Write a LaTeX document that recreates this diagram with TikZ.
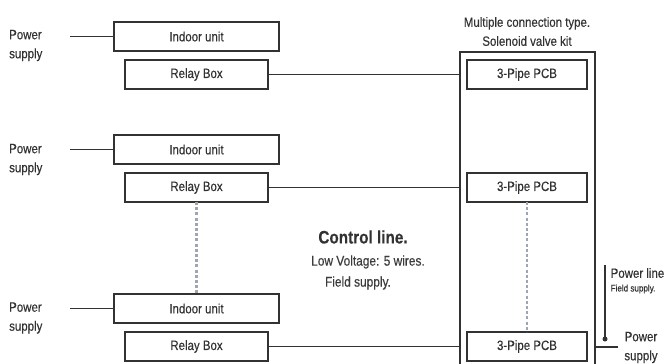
\documentclass[tikz,border=0pt]{standalone}
\usepackage{fontspec}
\setmainfont{Liberation Sans}[FakeStretch=0.85, FakeBold=0.35]
\usepackage{tikz}
\usetikzlibrary{positioning}

\definecolor{linegray}{RGB}{50,50,50}
\definecolor{textgray}{RGB}{60,60,60}
\definecolor{ctrlgray}{RGB}{158,166,178}

\tikzset{
    unitbox/.style={draw=linegray, line width=1.3pt, minimum height=29pt,
        inner sep=0pt, outer sep=0pt, text=linegray,
        font=\fontsize{13.5}{16}\selectfont},
    indoorbox/.style={unitbox, minimum width=165pt},
    relaybox/.style={unitbox, minimum width=143pt},
    pcbbox/.style={unitbox, minimum width=120pt},
    wire/.style={linegray, line width=1.2pt},
    ctrlwire/.style={ctrlgray, line width=2.6pt, dash pattern=on 3pt off 2.2pt},
    lbl/.style={text=linegray, inner sep=0pt, align=left,
        font=\fontsize{13.5}{19}\selectfont}
}

\begin{document}
\begin{tikzpicture}[x=1pt, y=-1pt]
                  \useasboundingbox (0,0) rectangle (665,364);
                  % solenoid valve kit
                  \node[draw=linegray, line width=1.3pt, minimum width=135pt, minimum height=330pt,
                      inner sep=0pt, outer sep=0pt, anchor=north] (kit) at (527.5,52) {};
                  \node[lbl, align=center] (kittitle) at (527,31.5) {Multiple connection type.\\Solenoid valve kit};
                  % first row
                  \node[lbl, anchor=west] (ps1) at (9,45.5) {Power\\supply};
                  \coordinate (ps1w) at (70,36.5);
                  \node[indoorbox] (indoor1) at (196.5,36.5) {Indoor unit};
                  \node[relaybox] (relay1) at (196.5,74.5) {Relay Box};
                  \node[pcbbox] (pcb1) at (527,74.5) {3-Pipe PCB};
                  \draw[wire] (ps1w) -- (indoor1.west);
                  \draw[wire] (relay1.east) -- (relay1.east -| kit.west);
                  % second row
                  \node[lbl, anchor=west] (ps2) at (9,159.5) {Power\\supply};
                  \coordinate (ps2w) at (70,149.5);
                  \node[indoorbox] (indoor2) at (196.5,149.5) {Indoor unit};
                  \node[relaybox] (relay2) at (196.5,187.5) {Relay Box};
                  \node[pcbbox] (pcb2) at (527,187.5) {3-Pipe PCB};
                  \draw[wire] (ps2w) -- (indoor2.west);
                  \draw[wire] (relay2.east) -- (relay2.east -| kit.west);
                  % last row
                  \node[lbl, anchor=west] (ps3) at (9,318) {Power\\supply};
                  \coordinate (ps3w) at (70,308.5);
                  \node[indoorbox] (indoor3) at (196.5,308.5) {Indoor unit};
                  \node[relaybox] (relay3) at (196.5,346.5) {Relay Box};
                  \node[pcbbox] (pcb3) at (527,346.5) {3-Pipe PCB};
                  \draw[wire] (ps3w) -- (indoor3.west);
                  \draw[wire] (relay3.east) -- (relay3.east -| kit.west);
                  % control line
                  \draw[ctrlwire] (relay2.south) -- (indoor3.north);
                  \draw[ctrlwire] (pcb2.south) -- (pcb3.north);
                  \node[text=linegray, font=\fontsize{18}{20}\selectfont\bfseries] (ctrl) at (363,237) {Control line.};
                  \node[text=textgray, font=\fontsize{14}{16}\selectfont] (lowv) at (368,262) {Low Voltage: 5 wires.};
                  \node[text=textgray, font=\fontsize{14}{16}\selectfont] (ctrlfield) at (358,283) {Field supply.};
                  % power line
                  \coordinate (pltop) at (605,265);
                  \coordinate (pldot) at (605,339);
                  \coordinate (psr) at (618,347);
                  \draw[wire] (pltop) -- (pldot);
                  \fill[linegray] (pldot) circle (2.5pt);
                  \draw[wire] (kit.east |- psr) -- (psr);
                  \node[lbl, anchor=west] (pline) at (610.5,273) {Power line};
                  \node[text=linegray, inner sep=0pt, anchor=west, font=\fontsize{9.5}{11}\selectfont] (plfield) at (610.5,289) {Field supply.};
                  \node[lbl, align=center] (ps4) at (641,347.5) {Power\\supply};
              \end{tikzpicture}
\end{document}
